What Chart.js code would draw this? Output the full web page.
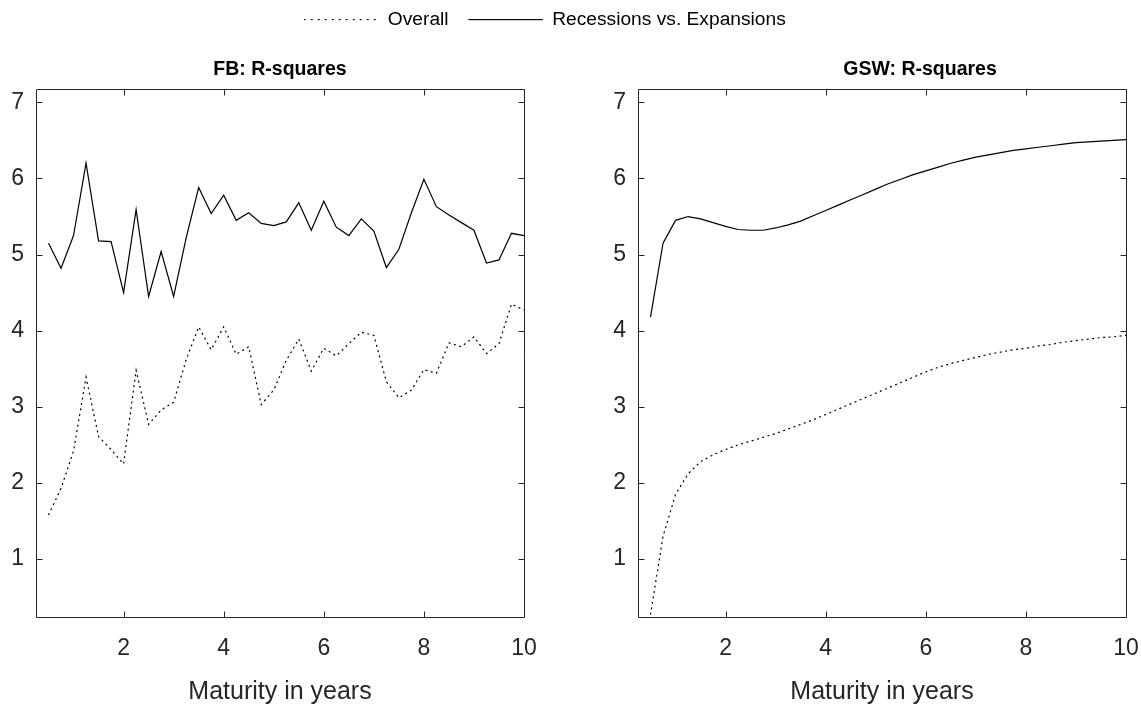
<!DOCTYPE html>
<html>
<head>
<meta charset="utf-8">
<script src="https://cdn.jsdelivr.net/npm/chart.js@4.4.0/dist/chart.umd.min.js"></script>
<style>
  html, body { margin: 0; padding: 0; background: #fff; }
  body { width: 1141px; height: 704px; position: relative; overflow: hidden; }
  .box { position: absolute; }
</style>
</head>
<body>
<div class="box" style="left:0;top:-10px;width:1090px;height:110px"><canvas id="legend"></canvas></div>
<div class="box" style="left:0;top:40px;width:560px;height:667px"><canvas id="fb"></canvas></div>
<div class="box" style="left:602px;top:40px;width:636px;height:667px"><canvas id="gsw"></canvas></div>
<script>
var maturities = [0.5, 0.75, 1, 1.25, 1.5, 1.75, 2, 2.25, 2.5, 2.75, 3, 3.25, 3.5, 3.75, 4, 4.25, 4.5, 4.75, 5, 5.25,
  5.5, 5.75, 6, 6.25, 6.5, 6.75, 7, 7.25, 7.5, 7.75, 8, 8.25, 8.5, 8.75, 9, 9.25, 9.5, 9.75, 10];

var fbOverall = [1.58, 1.93, 2.42, 3.39, 2.61, 2.44, 2.25, 3.48, 2.77, 2.96, 3.06, 3.62, 4.05, 3.75, 4.05, 3.69, 3.79, 3.03, 3.22, 3.61,
  3.89, 3.47, 3.77, 3.67, 3.83, 3.98, 3.94, 3.33, 3.12, 3.22, 3.49, 3.44, 3.84, 3.79, 3.92, 3.70, 3.83, 4.35, 4.27];
var fbRecessions = [5.15, 4.82, 5.25, 6.20, 5.18, 5.17, 4.50, 5.59, 4.45, 5.04, 4.45, 5.22, 5.88, 5.54, 5.78, 5.45, 5.55, 5.41, 5.38, 5.43,
  5.68, 5.32, 5.70, 5.36, 5.25, 5.47, 5.31, 4.83, 5.07, 5.55, 5.99, 5.63, 5.52, 5.42, 5.32, 4.89, 4.93, 5.28, 5.25];

var gswOverall = [0.27, 1.30, 1.85, 2.12, 2.28, 2.37, 2.44, 2.50, 2.55, 2.60, 2.65, 2.71, 2.77, 2.83, 2.90, 2.97, 3.04, 3.11, 3.18, 3.25,
  3.32, 3.39, 3.46, 3.52, 3.57, 3.61, 3.65, 3.69, 3.72, 3.75, 3.77, 3.80, 3.82, 3.85, 3.87, 3.89, 3.91, 3.92, 3.94];
var gswRecessions = [4.18, 5.15, 5.45, 5.50, 5.47, 5.42, 5.37, 5.33, 5.32, 5.32, 5.35, 5.39, 5.44, 5.51, 5.58, 5.65, 5.72, 5.79, 5.86, 5.93,
  5.99, 6.05, 6.10, 6.15, 6.20, 6.24, 6.28, 6.31, 6.34, 6.37, 6.39, 6.41, 6.43, 6.45, 6.47, 6.48, 6.49, 6.50, 6.51];

var xTicks = [2, 4, 6, 8, 10];
var yTicks = [1, 2, 3, 4, 5, 6, 7];

Chart.defaults.font.family = "'Liberation Sans', Arial, sans-serif";
Chart.defaults.color = "#262626";
Chart.defaults.animation = false;

function points(ys) {
  return maturities.map(function (m, i) {
    return { x: m, y: ys[i] };
  });
}

// box round the plot with inward tick marks, as in the original figure
var boxPlugin = {
  id: "box",
  afterDraw: function (chart) {
    var ctx = chart.ctx;
    var a = chart.chartArea;
    var xs = chart.scales.x;
    var ys = chart.scales.y;
    var l = Math.round(a.left) + 0.5, r = Math.round(a.right) + 0.5;
    var t = Math.round(a.top) + 0.5, b = Math.round(a.bottom) + 0.5;
    ctx.save();
    ctx.strokeStyle = "#262626";
    ctx.lineWidth = 1;
    ctx.beginPath();
    ctx.rect(l, t, r - l, b - t);
    xTicks.forEach(function (v) {
      var px = Math.round(xs.getPixelForValue(v)) + 0.5;
      ctx.moveTo(px, b); ctx.lineTo(px, b - 6);
      ctx.moveTo(px, t); ctx.lineTo(px, t + 6);
    });
    yTicks.forEach(function (v) {
      var py = Math.round(ys.getPixelForValue(v)) + 0.5;
      ctx.moveTo(l, py); ctx.lineTo(l + 6, py);
      ctx.moveTo(r, py); ctx.lineTo(r - 6, py);
    });
    ctx.stroke();
    ctx.restore();
  }
};

// rightSpace: width of an empty right axis, used to move the title sideways
function makeChart(id, title, overall, recessions, rightSpace) {
  var ctx = document.getElementById(id).getContext("2d");
  return new Chart(ctx, {
    type: "line",
    data: {
      datasets: [
        {
          label: "Overall",
          data: points(overall),
          borderColor: "#000",
          borderWidth: 1.2,
          borderDash: [2, 3.5],
          pointRadius: 0,
          tension: 0,
        },
        {
          label: "Recessions vs. Expansions",
          data: points(recessions),
          borderColor: "#000",
          borderWidth: 1.2,
          pointRadius: 0,
          tension: 0,
        },
      ],
    },
    options: {
      responsive: true,
      maintainAspectRatio: false,
      layout: { padding: 0 },
      plugins: {
        legend: { display: false },
        tooltip: { enabled: false },
        title: {
          display: true,
          text: title,
          color: "#000",
          font: { size: 19.5, weight: "bold" },
          padding: { top: 18, bottom: 8 },
        },
      },
      scales: {
        x: {
          type: "linear",
          min: 0.25,
          max: 10,
          afterBuildTicks: function (s) {
            s.ticks = xTicks.map(function (v) { return { value: v }; });
          },
          afterFit: function (s) { s.height = 90; },
          grid: { display: false, drawTicks: false },
          border: { display: false },
          ticks: { font: { size: 23 }, padding: 18, maxRotation: 0 },
          title: {
            display: true,
            text: "Maturity in years",
            font: { size: 25 },
            padding: { top: 0, bottom: 0 },
          },
        },
        y: {
          type: "linear",
          min: 0.24,
          max: 7.17,
          afterBuildTicks: function (s) {
            s.ticks = yTicks.map(function (v) { return { value: v }; });
          },
          afterFit: function (s) { s.width = 36; },
          grid: { display: false, drawTicks: false },
          border: { display: false },
          ticks: { font: { size: 23 }, padding: 12 },
        },
        y2: {
          type: "linear",
          position: "right",
          min: 0.24,
          max: 7.17,
          afterBuildTicks: function (s) { s.ticks = []; },
          afterFit: function (s) { s.width = rightSpace; },
          grid: { display: false, drawTicks: false },
          border: { display: false },
          ticks: { display: false },
        },
      },
    },
    plugins: [boxPlugin],
  });
}

var fbChart = makeChart("fb", "FB: R-squares", fbOverall, fbRecessions, 36);
var gswChart = makeChart("gsw", "GSW: R-squares", gswOverall, gswRecessions, 112);

// shared legend across the top of the figure
var legendCtx = document.getElementById("legend").getContext("2d");
var legendChart = new Chart(legendCtx, {
  type: "line",
  data: {
    datasets: [
      { label: "Overall", data: [], borderColor: "#000", backgroundColor: "#000", borderWidth: 1, borderDash: [1.5, 5.5] },
      { label: "Recessions vs. Expansions", data: [], borderColor: "#000", backgroundColor: "#000", borderWidth: 1 },
    ],
  },
  options: {
    responsive: true,
    maintainAspectRatio: false,
    plugins: {
      tooltip: { enabled: false },
      legend: {
        display: true,
        position: "top",
        labels: { boxWidth: 74, boxHeight: 0, padding: 20, color: "#000", font: { size: 19.2 } },
      },
    },
    scales: { x: { display: false }, y: { display: false } },
  },
});
</script>
</body>
</html>
